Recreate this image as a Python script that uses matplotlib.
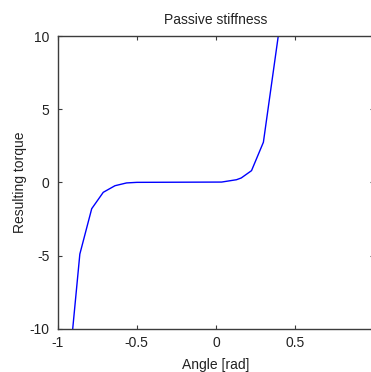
import numpy as np
import matplotlib
matplotlib.use("Agg")
import matplotlib.pyplot as plt

# values
angle = [-0.95, -0.905, -0.86, -0.785, -0.712, -0.638, -0.565, -0.50,
         0.036, 0.13, 0.16, 0.225, 0.30, 0.394, 0.42]
torque = [-16.0, -10.0, -4.9, -1.8, -0.68, -0.23, -0.04, 0.0,
          0.02, 0.18, 0.3, 0.8, 2.74, 10.0, 12.2]

xticks = [-1, -0.5, 0, 0.5]
xticklabels = ["-1", "-0.5", "0", "0.5"]
yticks = [-10, -5, 0, 5, 10]
yticklabels = ["-10", "-5", "0", "5", "10"]

plt.rcParams["font.family"] = ["Liberation Sans", "DejaVu Sans"]
plt.rcParams["axes.unicode_minus"] = False

fig = plt.figure(figsize=(3.71, 3.72), dpi=100)
ax = fig.add_axes([0.1555, 0.1164, 0.853, 0.7868])

ax.plot(angle, torque, color="#0000ff", lw=1.0)

ax.set_xlim(-1, 1)
ax.set_ylim(-10, 10)
ax.set_xticks(xticks)
ax.set_xticklabels(xticklabels)
ax.set_yticks(yticks)
ax.set_yticklabels(yticklabels)

for s in ax.spines.values():
    s.set_color("#3c3c3c")
    s.set_linewidth(1.0)
ax.tick_params(direction="in", length=3, width=0.8, color="#3c3c3c",
               labelsize=10, labelcolor="#222222", top=True, right=True)
ax.tick_params(axis="x", pad=5)
ax.tick_params(axis="y", pad=6)

ax.set_title("Passive stiffness", fontsize=10, pad=9, color="#222222")
ax.set_xlabel("Angle [rad]", fontsize=10, labelpad=6, color="#222222")
ax.set_ylabel("Resulting torque", fontsize=10, labelpad=2, color="#222222")

fig.savefig("out.png", dpi=100)
